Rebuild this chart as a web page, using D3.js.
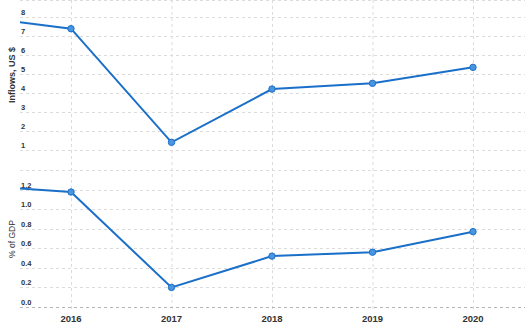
<!DOCTYPE html>
<html>

<head>
    <meta charset='utf-8' />
    <title>Inflows chart</title>
    <script src="https://cdn.jsdelivr.net/npm/d3@7"></script>
    <style>
        body {
            margin: 0;
            padding: 0;
            background: #fff;
        }

        svg text {
            font-family: "Liberation Sans", Arial, sans-serif;
            fill: #333;
        }

        .grid {
            stroke: #dcdcdc;
            stroke-width: 1;
            stroke-dasharray: 3, 3;
        }
    </style>
</head>

<body>
    <div id='chart'></div>
    <script>
        // data (2015 only shows as the line coming in from the left)
        var years = [2015, 2016, 2017, 2018, 2019, 2020];
        var inflows = [8.03, 7.37, 1.40, 4.20, 4.50, 5.34];
        var pctGdp = [1.245, 1.175, 0.20, 0.52, 0.56, 0.77];
        var yearLabels = [2016, 2017, 2018, 2019, 2020];
        var inflowTicks = [1, 2, 3, 4, 5, 6, 7, 8];
        var gdpTicks = [0, 0.2, 0.4, 0.6, 0.8, 1.0, 1.2];

        var width = 525, height = 329;
        var left = 20;

        var svg = d3.select('#chart').append('svg')
            .attr('width', width)
            .attr('height', height);

        svg.append('defs').append('clipPath').attr('id', 'plotclip')
            .append('rect')
            .attr('x', left).attr('y', -5)
            .attr('width', width - left).attr('height', height);

        var x = d3.scaleLinear().domain([2016, 2020]).range([71, 473]);
        var yTop = d3.scaleLinear().domain([0, 8]).range([169, 16.7]);
        var yBot = d3.scaleLinear().domain([0, 1.4]).range([307, 170]);

        // vertical dotted lines at each year
        svg.append('g').selectAll('line')
            .data(yearLabels)
            .enter()
            .append('line')
            .attr('class', 'grid')
            .attr('x1', function (d) { return x(d) + 0.5; })
            .attr('x2', function (d) { return x(d) + 0.5; })
            .attr('y1', 0)
            .attr('y2', 311);

        // top border line
        svg.append('line')
            .attr('class', 'grid')
            .attr('x1', left).attr('x2', width)
            .attr('y1', 0.5).attr('y2', 0.5);

        drawPanel(yTop, inflowTicks, inflows, function (d) { return d3.format('d')(d); }, false);
        drawPanel(yBot, d3.range(0, 1.41, 0.2), pctGdp, function (d) { return d3.format('.1f')(d); }, true);

        function drawPanel(y, ticks, values, fmt, hasAxis) {
            var g = svg.append('g');

            g.selectAll('line.grid')
                .data(ticks)
                .enter()
                .append('line')
                .attr('class', 'grid')
                .attr('x1', left)
                .attr('x2', width)
                .attr('y1', function (d) { return Math.round(y(d)) + 0.5; })
                .attr('y2', function (d) { return Math.round(y(d)) + 0.5; })
                .style('stroke', function (d) { return (hasAxis && d == 0) ? '#b5b5b5' : null; });

            // labels sit just above their gridline, except the unlabeled top line
            g.selectAll('text')
                .data(ticks.filter(function (d) { return d < 1.3 || !hasAxis; }))
                .enter()
                .append('text')
                .attr('x', 21)
                .attr('y', function (d) { return y(d) - 2; })
                .style('font-size', '7.5px')
                .style('font-weight', 'bold')
                .text(fmt);

            var line = d3.line()
                .x(function (d, i) { return x(years[i]); })
                .y(function (d) { return y(d); });

            var plot = g.append('g').attr('clip-path', 'url(#plotclip)');

            plot.append('path')
                .datum(values)
                .attr('d', line)
                .attr('fill', 'none')
                .attr('stroke', '#1a6fc9')
                .attr('stroke-width', 2);

            plot.selectAll('circle')
                .data(values.slice(1))
                .enter()
                .append('circle')
                .attr('cx', function (d, i) { return x(years[i + 1]); })
                .attr('cy', function (d) { return y(d); })
                .attr('r', 3.2)
                .attr('fill', '#4b95e0')
                .attr('stroke', '#1a6fc9')
                .attr('stroke-width', 1);
        }

        // x labels
        svg.append('g').selectAll('text')
            .data(yearLabels)
            .enter()
            .append('text')
            .attr('x', function (d) { return x(d); })
            .attr('y', 322)
            .attr('text-anchor', 'middle')
            .style('font-size', '9.5px')
            .style('font-weight', 'bold')
            .text(function (d) { return d; });

        // axis titles
        svg.append('text')
            .attr('transform', 'translate(15,75) rotate(-90)')
            .attr('text-anchor', 'middle')
            .style('font-size', '9px')
            .style('font-weight', 'bold')
            .text('Inflows, US $');

        svg.append('text')
            .attr('transform', 'translate(15,239) rotate(-90)')
            .attr('text-anchor', 'middle')
            .style('font-size', '8.5px')
            .text('% of GDP');
    </script>

</body>

</html>
